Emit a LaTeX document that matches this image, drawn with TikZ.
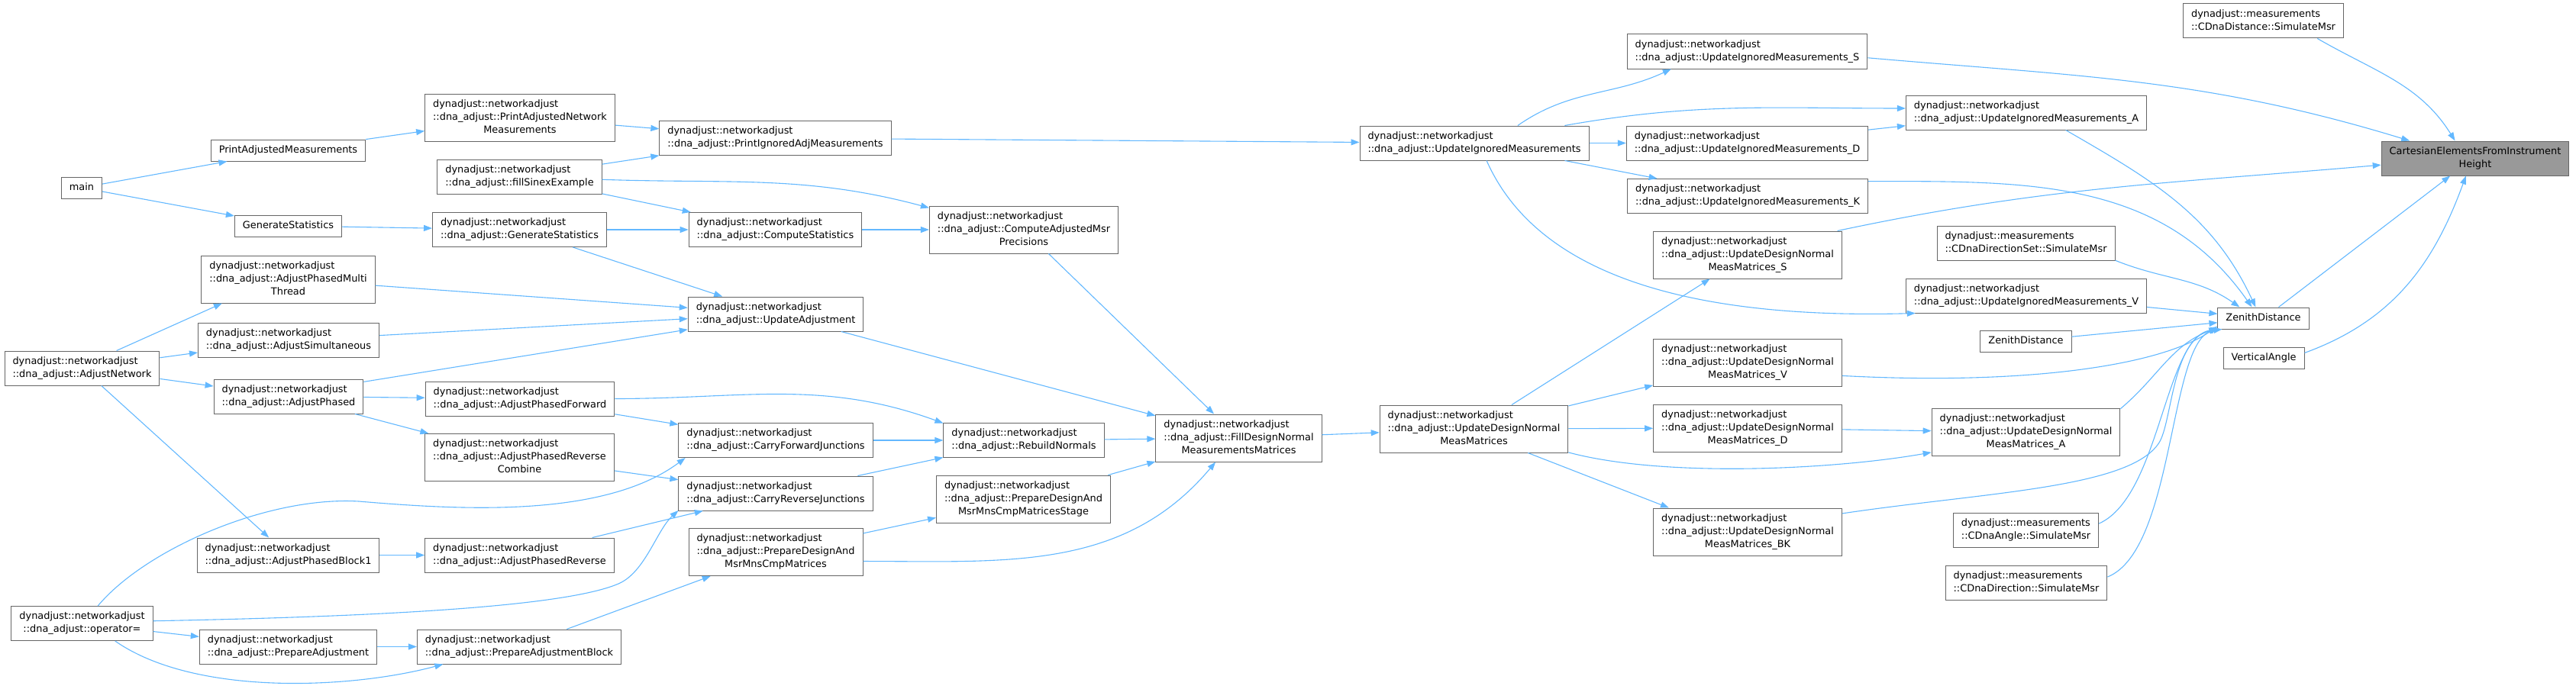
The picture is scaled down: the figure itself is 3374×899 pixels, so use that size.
\documentclass[tikz,border=0pt]{standalone}
\usepackage{fontspec}
\newfontfamily\dejavu{DejaVu Sans}
\usetikzlibrary{arrows.meta}
\definecolor{edgeblue}{HTML}{63B8FF}
\definecolor{boxline}{HTML}{666666}
\definecolor{rootfill}{HTML}{999999}
\newcommand{\fone}[1]{\begin{tabular}{@{}c@{}}#1\end{tabular}}
\newcommand{\ftwo}[2]{\begin{tabular}{@{}l@{}}#1\\\multicolumn{1}{@{}c@{}}{#2}\end{tabular}}
\newcommand{\fthree}[3]{\begin{tabular}{@{}l@{}}#1\\#2\\\multicolumn{1}{@{}c@{}}{#3}\end{tabular}}
\newcommand{\dnet}{dynadjust::networkadjust}
\newcommand{\dmsr}{dynadjust::measurements}
\newcommand{\dadj}{::dna\_adjust::}

\begin{document}
\begin{tikzpicture}[x=1pt,y=-1pt,>={Triangle[length=11pt,width=8pt]},
  fn/.style={draw=boxline,fill=white,line width=1pt,inner xsep=10.5pt,inner ysep=5.5pt,
    font=\dejavu\fontsize{12.9}{17}\selectfont},
  rootfn/.style={fn,fill=rootfill},
  call/.style={draw=edgeblue,line width=1.1pt,->}]
\useasboundingbox (0,0) rectangle (3374,899);
% callers, left column
\node[fn] (main) at (107,246) {\fone{main}};
\node[fn] (an) at (107.5,482.5) {\ftwo{\dnet}{\dadj AdjustNetwork}};
\node[fn] (op) at (107.5,817) {\ftwo{\dnet}{\dadj operator=}};
\node[fn] (pam) at (377.5,197) {\fone{PrintAdjustedMeasurements}};
\node[fn] (gs) at (377.5,296) {\fone{GenerateStatistics}};
\node[fn] (apmt) at (377.5,366) {\fthree{\dnet}{\dadj AdjustPhasedMulti}{Thread}};
\node[fn] (asim) at (378,446) {\ftwo{\dnet}{\dadj AdjustSimultaneous}};
\node[fn] (ap) at (378,519.5) {\ftwo{\dnet}{\dadj AdjustPhased}};
\node[fn] (apb) at (377.5,727.5) {\ftwo{\dnet}{\dadj AdjustPhasedBlock1}};
\node[fn] (pa) at (377.5,847.5) {\ftwo{\dnet}{\dadj PrepareAdjustment}};
\node[fn] (panm) at (681,154) {\fthree{\dnet}{\dadj PrintAdjustedNetwork}{Measurements}};
\node[fn] (fse) at (680.5,231.5) {\ftwo{\dnet}{\dadj fillSinexExample}};
\node[fn] (dgs) at (680.5,301) {\ftwo{\dnet}{\dadj GenerateStatistics}};
\node[fn] (apf) at (681,522.5) {\ftwo{\dnet}{\dadj AdjustPhasedForward}};
\node[fn] (aprc) at (680.5,599.5) {\fthree{\dnet}{\dadj AdjustPhasedReverse}{Combine}};
\node[fn] (apr) at (680.5,727.5) {\ftwo{\dnet}{\dadj AdjustPhasedReverse}};
\node[fn] (pab) at (680,847.5) {\ftwo{\dnet}{\dadj PrepareAdjustmentBlock}};
% middle
\node[fn] (piam) at (1015.5,181) {\ftwo{\dnet}{\dadj PrintIgnoredAdjMeasurements}};
\node[fn] (cs) at (1015.5,301) {\ftwo{\dnet}{\dadj ComputeStatistics}};
\node[fn] (ua) at (1016,411.5) {\ftwo{\dnet}{\dadj UpdateAdjustment}};
\node[fn] (cfj) at (1016,577) {\ftwo{\dnet}{\dadj CarryForwardJunctions}};
\node[fn] (crj) at (1016,646.5) {\ftwo{\dnet}{\dadj CarryReverseJunctions}};
\node[fn] (pdm) at (1016,723.5) {\fthree{\dnet}{\dadj PrepareDesignAnd}{MsrMnsCmpMatrices}};
\node[fn] (camp) at (1341,301) {\fthree{\dnet}{\dadj ComputeAdjustedMsr}{Precisions}};
\node[fn] (rn) at (1341,577) {\ftwo{\dnet}{\dadj RebuildNormals}};
\node[fn] (pds) at (1340.5,654) {\fthree{\dnet}{\dadj PrepareDesignAnd}{MsrMnsCmpMatricesStage}};
\node[fn] (fdn) at (1622.5,574) {\fthree{\dnet}{\dadj FillDesignNormal}{MeasurementsMatrices}};
\node[fn] (uim) at (1931,187.5) {\ftwo{\dnet}{\dadj UpdateIgnoredMeasurements}};
\node[fn] (udn) at (1930.5,562) {\fthree{\dnet}{\dadj UpdateDesignNormal}{MeasMatrices}};
% right side
\node[fn] (uims) at (2288.5,67.5) {\ftwo{\dnet}{\dadj UpdateIgnoredMeasurements\_S}};
\node[fn] (uimd) at (2288.5,187.5) {\ftwo{\dnet}{\dadj UpdateIgnoredMeasurements\_D}};
\node[fn] (uimk) at (2289,257) {\ftwo{\dnet}{\dadj UpdateIgnoredMeasurements\_K}};
\node[fn] (udns) at (2289,334) {\fthree{\dnet}{\dadj UpdateDesignNormal}{MeasMatrices\_S}};
\node[fn] (udnv) at (2289,475) {\fthree{\dnet}{\dadj UpdateDesignNormal}{MeasMatrices\_V}};
\node[fn] (udnd) at (2289,561) {\fthree{\dnet}{\dadj UpdateDesignNormal}{MeasMatrices\_D}};
\node[fn] (udnbk) at (2289,697) {\fthree{\dnet}{\dadj UpdateDesignNormal}{MeasMatrices\_BK}};
\node[fn] (uima) at (2654,147.5) {\ftwo{\dnet}{\dadj UpdateIgnoredMeasurements\_A}};
\node[fn] (cds) at (2653.5,318.5) {\ftwo{\dmsr}{::CDnaDirectionSet::SimulateMsr}};
\node[fn] (uimv) at (2654,387.5) {\ftwo{\dnet}{\dadj UpdateIgnoredMeasurements\_V}};
\node[fn] (zdb) at (2653.5,447) {\fone{ZenithDistance}};
\node[fn] (udna) at (2653.5,566.5) {\fthree{\dnet}{\dadj UpdateDesignNormal}{MeasMatrices\_A}};
\node[fn] (cda) at (2653.5,694.5) {\ftwo{\dmsr}{::CDnaAngle::SimulateMsr}};
\node[fn] (cdd) at (2654,763.5) {\ftwo{\dmsr}{::CDnaDirection::SimulateMsr}};
\node[fn] (cdn) at (2964.5,27.5) {\ftwo{\dmsr}{::CDnaDistance::SimulateMsr}};
\node[fn] (zd) at (2964.5,417) {\fone{ZenithDistance}};
\node[fn] (va) at (2965,469) {\fone{VerticalAngle}};
\node[rootfn] (cef) at (3242,207.5) {\ftwo{CartesianElementsFromInstrument}{Height}};
% calls
\draw[call] (main) -- (pam);
\draw[call] (main) -- (gs);
\draw[call] (pam) -- (panm);
\draw[call] (gs) -- (dgs);
\draw[call] (panm) -- (piam);
\draw[call] (fse) -- (piam);
\draw[call] (fse.-2) to[out=-2,in=165] (camp.167);
\draw[call] (fse) -- (cs);
\draw[call] (dgs) -- (cs);
\draw[call] (dgs) -- (ua);
\draw[call] (apmt) -- (ua);
\draw[call] (asim) -- (ua);
\draw[call] (ap.11) -- (ua.190);
\draw[call] (cs) -- (camp);
\draw[call] (camp) -- (fdn);
\draw[call] (ua) -- (fdn);
\draw[call] (an.27) -- (apmt.200);
\draw[call] (an) -- (asim);
\draw[call] (an) -- (ap);
\draw[call] (an) -- (apb);
\draw[call] (ap) -- (apf);
\draw[call] (ap) -- (aprc);
\draw[call] (apf.east) to[out=0,in=160] (rn.168);
\draw[call] (apf) -- (cfj);
\draw[call] (aprc) -- (crj);
\draw[call] (op.48) .. controls (190,720) and (350,650) .. (470,657) .. controls (600,668) and (790,680) .. (cfj.191);
\draw[call] (op.2) .. controls (500,808) and (740,795) .. (810,765) .. controls (845,750) and (860,695) .. (crj.190);
\draw[call] (apr) -- (crj);
\draw[call] (apb) -- (apr);
\draw[call] (op) -- (pa);
\draw[call] (op.-28) to[out=-35,in=195,looseness=0.75] (pab.193);
\draw[call] (pa) -- (pab);
\draw[call] (pab) -- (pdm);
\draw[call] (cfj) -- (rn);
\draw[call] (crj) -- (rn);
\draw[call] (rn) -- (fdn);
\draw[call] (pds) -- (fdn);
\draw[call] (pdm) -- (pds);
\draw[call] (pdm.-6) to[out=0,in=230] (fdn.-134);
\draw[call] (fdn) -- (udn);
\draw[call] (piam) -- (uim);
\draw[call] (uim.22) to[out=35,in=205] (uims.193);
\draw[call] (uim.11) to[out=10,in=180] (uima.178);
\draw[call] (uim) -- (uimd);
\draw[call] (uim) -- (uimk);
\draw[call] (uim.-55) .. controls (2000,330) and (2150,420) .. (uimv.189);
\draw[call] (udn) -- (udns);
\draw[call] (udn) -- (udnv);
\draw[call] (udn) -- (udnd);
\draw[call] (udn.-14) to[out=-15,in=190,looseness=0.7] (udna.192);
\draw[call] (udn.-24) -- (udnbk.163);
\draw[call] (udnd) -- (udna);
\draw[call] (uimd) -- (uima);
\draw[call] (uims.-3) to[out=-5,in=163] (cef.165);
\draw[call] (uima.-24) to[out=-30,in=115] (zd.125);
\draw[call] (uimk.7) to[out=0,in=125] (zd.136);
\draw[call] (udns.15) to[out=12,in=185] (cef.184);
\draw[call] (cds.-11) to[out=-22,in=145] (zd.155);
\draw[call] (uimv) -- (zd);
\draw[call] (zdb) -- (zd);
\draw[call] (udnv.-8) .. controls (2650,505) and (2830,480) .. (zd.190);
\draw[call] (udna.14) to[out=40,in=200] (zd.192);
\draw[call] (udnbk.11) .. controls (2600,645) and (2790,640) .. (2828,580) .. controls (2845,553) and (2845,445) .. (zd.193);
\draw[call] (cda.5) .. controls (2830,650) and (2835,440) .. (zd.194);
\draw[call] (cdd.4) .. controls (2850,720) and (2840,440) .. (zd.195);
\draw[call] (zd.36) -- (cef.215);
\draw[call] (va.7) to[out=20,in=250] (cef.242);
\draw[call] (cdn.-18) to[out=-30,in=122] (cef.139);
\end{tikzpicture}
\end{document}
